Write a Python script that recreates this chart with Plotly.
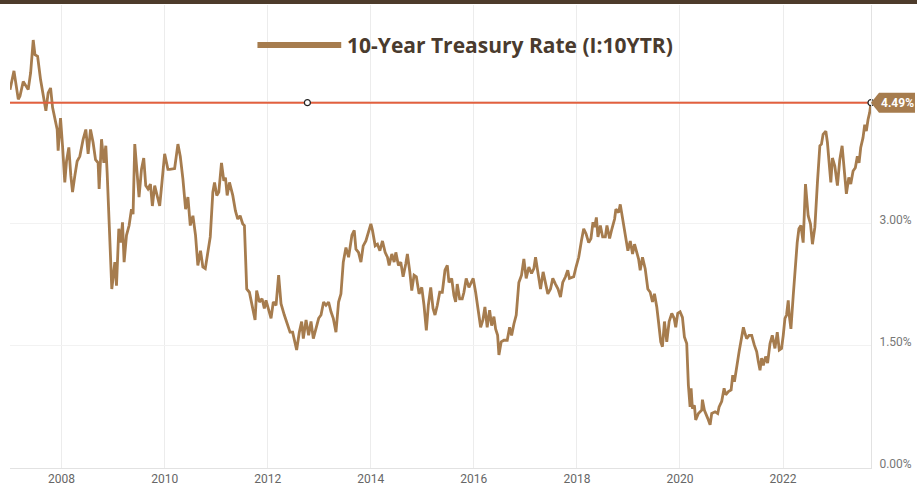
import plotly.graph_objects as go
from datetime import datetime

series_name = "10-Year Treasury Rate (I:10YTR)"
latest_rate = 4.49
latest_label = "4.49%"
ref_marker_year = 2012.77

years_a = [2007.000, 2007.077, 2007.161, 2007.194, 2007.257, 2007.310, 2007.354, 2007.401, 2007.451, 2007.484,
           2007.536, 2007.594, 2007.645, 2007.697, 2007.741, 2007.788, 2007.827, 2007.871, 2007.916, 2007.935,
           2007.981, 2008.020, 2008.064, 2008.097, 2008.142, 2008.181, 2008.214, 2008.258, 2008.303, 2008.355,
           2008.388, 2008.419, 2008.471, 2008.516, 2008.562, 2008.612, 2008.659, 2008.709, 2008.729, 2008.775,
           2008.820, 2008.858, 2008.884, 2008.936, 2008.974, 2009.033, 2009.065, 2009.110, 2009.149, 2009.182,
           2009.213, 2009.259, 2009.310, 2009.356, 2009.387, 2009.420, 2009.453, 2009.503, 2009.550, 2009.594,
           2009.633, 2009.677, 2009.724, 2009.762, 2009.807, 2009.851, 2009.904, 2009.948, 2010.000, 2010.064,
           2010.098, 2010.194, 2010.258, 2010.304, 2010.355, 2010.407, 2010.452, 2010.498, 2010.549, 2010.600,
           2010.645, 2010.697, 2010.742, 2010.789, 2010.839, 2010.886, 2010.936, 2010.969, 2011.013, 2011.052,
           2011.104, 2011.149, 2011.181, 2011.214, 2011.259, 2011.323, 2011.375, 2011.420, 2011.466, 2011.517,
           2011.549, 2011.594, 2011.646, 2011.698, 2011.756, 2011.787, 2011.839, 2011.892, 2011.936, 2011.969,
           2012.019, 2012.066, 2012.110, 2012.163, 2012.213, 2012.259, 2012.323, 2012.387, 2012.434, 2012.484,
           2012.517, 2012.562, 2012.614, 2012.659, 2012.691, 2012.744, 2012.794, 2012.840, 2012.885, 2012.937,
           2012.988, 2013.034, 2013.084, 2013.131, 2013.181, 2013.228, 2013.272, 2013.324, 2013.375, 2013.421,
           2013.466, 2013.518, 2013.569, 2013.634, 2013.679, 2013.712, 2013.762, 2013.809, 2013.853, 2013.905,
           2013.956, 2014.002, 2014.033, 2014.086, 2014.130, 2014.177, 2014.227, 2014.279, 2014.324, 2014.357,
           2014.409, 2014.454, 2014.487, 2014.537, 2014.583, 2014.628, 2014.680, 2014.711, 2014.758, 2014.796,
           2014.841, 2014.885, 2014.938, 2014.990, 2015.034, 2015.079, 2015.118, 2015.164, 2015.209, 2015.247,
           2015.292, 2015.339, 2015.389, 2015.441, 2015.486, 2015.518, 2015.571, 2015.615, 2015.648, 2015.679,
           2015.726, 2015.776, 2015.809, 2015.853, 2015.906, 2015.958, 2015.989]
rates_a = [4.65, 4.88, 4.53, 4.57, 4.75, 4.69, 4.65, 4.86, 5.26, 5.08,
           5.06, 4.77, 4.57, 4.39, 4.61, 4.67, 4.43, 4.30, 4.16, 3.90,
           4.30, 3.96, 3.51, 3.77, 3.94, 3.59, 3.39, 3.59, 3.77, 3.83,
           3.94, 4.04, 4.16, 3.86, 4.16, 4.00, 3.79, 3.75, 3.43, 4.04,
           3.75, 3.96, 3.63, 2.69, 2.20, 2.53, 2.24, 2.94, 2.77, 3.02,
           2.53, 2.86, 2.98, 3.18, 3.12, 3.98, 3.67, 3.33, 3.67, 3.81,
           3.47, 3.43, 3.49, 3.22, 3.47, 3.35, 3.22, 3.51, 3.86, 3.67,
           3.67, 3.68, 3.98, 3.83, 3.55, 3.18, 3.33, 2.98, 3.10, 2.86,
           2.49, 2.67, 2.47, 2.45, 2.63, 2.84, 3.39, 3.51, 3.35, 3.39,
           3.75, 3.53, 3.57, 3.35, 3.51, 3.35, 3.16, 3.06, 3.10, 3.00,
           2.98, 2.20, 2.16, 1.98, 1.82, 2.18, 2.04, 2.08, 1.96, 2.06,
           1.94, 1.84, 2.04, 2.00, 2.37, 2.02, 1.88, 1.75, 1.67, 1.67,
           1.57, 1.45, 1.67, 1.80, 1.59, 1.82, 1.63, 1.80, 1.59, 1.71,
           1.84, 1.88, 2.04, 2.00, 2.04, 1.92, 1.84, 1.67, 2.04, 2.14,
           2.53, 2.71, 2.59, 2.86, 2.92, 2.69, 2.65, 2.53, 2.73, 2.79,
           2.90, 3.00, 2.92, 2.73, 2.75, 2.67, 2.79, 2.65, 2.59, 2.49,
           2.63, 2.53, 2.65, 2.49, 2.53, 2.35, 2.51, 2.63, 2.41, 2.18,
           2.37, 2.35, 2.14, 2.22, 2.00, 1.69, 2.00, 2.22, 1.96, 1.88,
           2.00, 2.16, 2.16, 2.43, 2.49, 2.28, 2.33, 2.12, 2.04, 2.26,
           2.08, 2.08, 2.16, 2.33, 2.22, 2.30, 2.33]

years_b = [2016.036, 2016.086, 2016.133, 2016.177, 2016.216, 2016.260, 2016.307, 2016.346, 2016.390, 2016.423,
           2016.462, 2016.487, 2016.531, 2016.584, 2016.648, 2016.694, 2016.733, 2016.777, 2016.822, 2016.873,
           2016.925, 2016.970, 2017.015, 2017.067, 2017.119, 2017.164, 2017.197, 2017.241, 2017.294, 2017.344,
           2017.390, 2017.435, 2017.487, 2017.532, 2017.584, 2017.634, 2017.681, 2017.725, 2017.778, 2017.822,
           2017.855, 2017.938, 2017.983, 2018.035, 2018.087, 2018.132, 2018.177, 2018.229, 2018.273, 2018.312,
           2018.345, 2018.378, 2018.409, 2018.455, 2018.500, 2018.552, 2018.583, 2018.635, 2018.680, 2018.732,
           2018.757, 2018.810, 2018.842, 2018.873, 2018.920, 2018.951, 2018.990, 2019.036, 2019.081, 2019.119,
           2019.164, 2019.197, 2019.229, 2019.274, 2019.326, 2019.377, 2019.423, 2019.468, 2019.506, 2019.551,
           2019.584, 2019.628, 2019.661, 2019.700, 2019.745, 2019.791, 2019.842, 2019.888, 2019.919, 2019.958,
           2020.004, 2020.049, 2020.087, 2020.132, 2020.164, 2020.197, 2020.217, 2020.242, 2020.281, 2020.306,
           2020.358, 2020.422, 2020.436, 2020.475, 2020.539, 2020.585, 2020.616, 2020.682, 2020.732, 2020.759,
           2020.810, 2020.856, 2020.887, 2020.939, 2020.992, 2021.023, 2021.056, 2021.100, 2021.147, 2021.197,
           2021.230, 2021.263, 2021.294, 2021.340, 2021.391, 2021.443, 2021.488, 2021.520, 2021.553, 2021.584,
           2021.617, 2021.662, 2021.700, 2021.747, 2021.791, 2021.843, 2021.888, 2021.927, 2021.971, 2022.004,
           2022.037, 2022.068, 2022.101, 2022.120, 2022.153, 2022.198, 2022.231, 2022.275, 2022.308, 2022.347,
           2022.391, 2022.436, 2022.488, 2022.533, 2022.571, 2022.618, 2022.668, 2022.715, 2022.746, 2022.778,
           2022.831, 2022.862, 2022.895, 2022.928, 2022.959, 2023.005, 2023.056, 2023.102, 2023.147, 2023.186,
           2023.230, 2023.277, 2023.315, 2023.360, 2023.404, 2023.443, 2023.476, 2023.509, 2023.553, 2023.586,
           2023.617, 2023.650, 2023.683, 2023.708]
rates_b = [2.16, 1.96, 1.73, 1.82, 1.98, 1.73, 1.94, 1.75, 1.86, 1.71,
           1.63, 1.39, 1.55, 1.57, 1.57, 1.73, 1.63, 1.77, 1.88, 2.28,
           2.37, 2.57, 2.33, 2.47, 2.39, 2.45, 2.59, 2.41, 2.20, 2.41,
           2.28, 2.14, 2.20, 2.33, 2.26, 2.20, 2.10, 2.28, 2.35, 2.43,
           2.33, 2.35, 2.47, 2.59, 2.79, 2.94, 2.88, 2.77, 2.82, 3.02,
           2.96, 3.08, 2.84, 2.98, 2.84, 2.84, 2.98, 2.82, 2.94, 3.06,
           3.18, 3.14, 3.24, 3.12, 2.94, 2.82, 2.67, 2.79, 2.63, 2.75,
           2.65, 2.57, 2.43, 2.59, 2.45, 2.20, 2.16, 2.04, 2.14, 1.98,
           1.80, 1.55, 1.49, 1.80, 1.55, 1.80, 1.90, 1.84, 1.73, 1.90,
           1.92, 1.85, 1.61, 1.53, 1.02, 0.75, 0.98, 0.73, 0.77, 0.59,
           0.67, 0.71, 0.84, 0.71, 0.61, 0.53, 0.67, 0.69, 0.67, 0.75,
           0.82, 0.98, 0.90, 0.94, 0.96, 1.14, 1.06, 1.26, 1.43, 1.61,
           1.73, 1.65, 1.59, 1.63, 1.63, 1.51, 1.43, 1.31, 1.20, 1.35,
           1.26, 1.37, 1.29, 1.53, 1.63, 1.47, 1.67, 1.45, 1.47, 1.63,
           1.84, 1.88, 2.06, 1.88, 1.71, 2.12, 2.41, 2.77, 2.94, 2.98,
           2.77, 3.49, 3.10, 3.00, 2.75, 2.96, 3.51, 3.96, 3.98, 4.10,
           4.14, 4.00, 3.75, 3.51, 3.81, 3.71, 3.47, 3.79, 3.96, 3.71,
           3.37, 3.57, 3.49, 3.65, 3.69, 3.83, 3.75, 3.94, 4.06, 4.22,
           4.14, 4.28, 4.37, 4.49]

y_tick_vals = [0.0, 1.5, 3.0, 4.5]
y_tick_text = ["0.00%", "1.50%", "3.00%", "4.50%"]
y_range = [0.0, 5.69]


def to_date(y):
    yr = int(y)
    start = datetime(yr, 1, 1)
    end = datetime(yr + 1, 1, 1)
    return start + (end - start) * (y - yr)


years = years_a + years_b
rates = rates_a + rates_b
dates = [to_date(v) for v in years]
x_start, x_end = dates[0], dates[-1]

LINE = "#a67c4e"
REF = "#e2603f"
DARK = "#4a3b2e"

fig = go.Figure()
fig.add_trace(go.Scatter(x=dates, y=rates, mode="lines", name=series_name,
                         line=dict(color=LINE, width=2.8), hoverinfo="skip"))
fig.add_trace(go.Scatter(x=[x_start, x_end], y=[latest_rate, latest_rate], mode="lines",
                         line=dict(color=REF, width=2), hoverinfo="skip"))
fig.add_trace(go.Scatter(x=[to_date(ref_marker_year), x_end], y=[latest_rate, latest_rate], mode="markers",
                         marker=dict(size=6, color="white", line=dict(color="#222", width=1.2)),
                         hoverinfo="skip", cliponaxis=False))

fig.update_layout(
    width=917, height=491,
    margin=dict(l=10, r=44, t=5, b=22),
    paper_bgcolor="white", plot_bgcolor="white",
    showlegend=False,
    font=dict(family="Roboto", color="#666", size=12),
    xaxis=dict(type="date", range=[x_start, x_end],
               tick0="2008-01-01", dtick="M24", tickformat="%Y",
               showgrid=True, gridcolor="#ececec", gridwidth=1,
               showline=True, linecolor="#e2e2e2", linewidth=1,
               ticks="", zeroline=False, tickfont=dict(size=12, color="#666")),
    yaxis=dict(side="right", range=y_range, tickvals=y_tick_vals, ticktext=y_tick_text,
               showgrid=True, gridcolor="#f2f2f2", gridwidth=1,
               showline=True, linecolor="#e2e2e2", linewidth=1,
               ticks="", zeroline=False, ticklabelstandoff=5, ticklabelshift=-4,
               tickfont=dict(size=12, color="#777")),
)

# top band
fig.add_shape(type="rect", xref="paper", yref="paper", x0=-0.02, x1=1.06,
              y0=1 + 1 / 464, y1=1 + 7 / 464, fillcolor="#4d3b2b", line=dict(width=0), layer="above")

# legend (custom, long line swatch)
fig.add_shape(type="line", xref="paper", yref="paper", x0=0.2874, x1=0.3847, y0=0.9138, y1=0.9138,
              line=dict(color=LINE, width=6), layer="above")
fig.add_annotation(xref="paper", yref="paper", x=0.3893, y=0.9138, xanchor="left", yanchor="middle",
                   text="<b>" + series_name + "</b>", showarrow=False,
                   font=dict(family="Open Sans", size=21, color=DARK))

# latest value tag
fig.add_shape(type="path", xref="paper", yref="y", xsizemode="pixel", ysizemode="pixel",
              xanchor=1, yanchor=latest_rate,
              path="M 0 0 L 8 10 L 44 10 L 44 -10 L 8 -10 Z",
              fillcolor=LINE, line=dict(width=0), layer="above")
fig.add_annotation(xref="paper", yref="y", x=1, y=latest_rate, xanchor="left", yanchor="middle",
                   xshift=8, text="<b>" + latest_label + "</b>", showarrow=False,
                   font=dict(family="Roboto", size=12, color="white"))

fig.write_html("out.html")
